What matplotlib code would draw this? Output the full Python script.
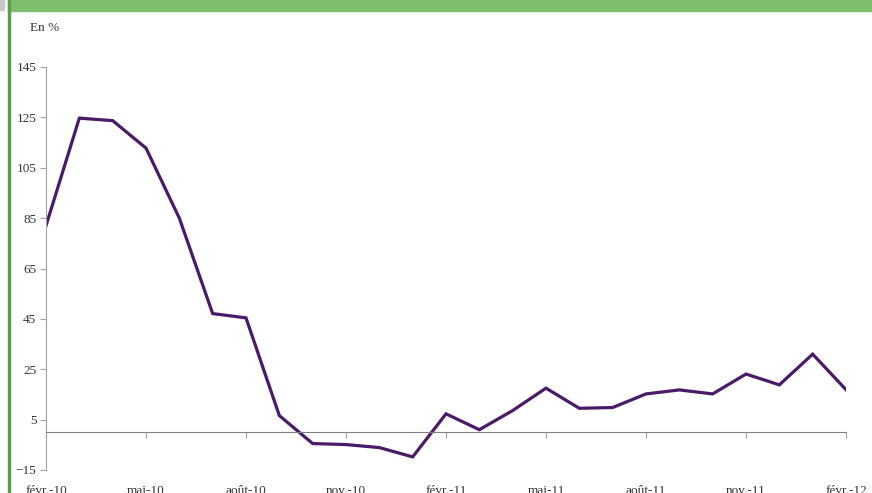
import matplotlib.pyplot as plt
from matplotlib.patches import Rectangle

plt.rcParams["font.family"] = ["Liberation Serif", "DejaVu Serif"]

# monthly values, févr.-10 to févr.-12 (en %)
months = list(range(25))
values = [82.0, 124.7, 123.7, 112.8, 85.0, 47.1, 45.4, 6.6, -4.5, -4.9, -6.1, -9.8,
          7.3, 1.0, 8.6, 17.5, 9.5, 9.8, 15.2, 16.8, 15.2, 23.1, 18.8, 31.0, 16.9]
tick_pos = [0, 3, 6, 9, 12, 15, 18, 21, 24]
tick_labels = ["févr.-10", "mai-10", "août-10", "nov.-10", "févr.-11",
               "mai-11", "août-11", "nov.-11", "févr.-12"]
y_ticks = [-15, 5, 25, 45, 65, 85, 105, 125, 145]

fig = plt.figure(figsize=(8.72, 4.93), dpi=100)

# green frame decoration
fig.patches.append(Rectangle((8 / 872, 1 - 11 / 493), 1, 11 / 493,
                             transform=fig.transFigure, color="#7dbf6e", zorder=0))
fig.patches.append(Rectangle((8 / 872, 0), 2 / 872, 1,
                             transform=fig.transFigure, color="#5a9e48", zorder=0))
fig.patches.append(Rectangle((0, 1 - 10 / 493), 4 / 872, 10 / 493,
                             transform=fig.transFigure, color="#c8c8c8", zorder=0))

ax = fig.add_axes([46 / 872, 23 / 493, 800 / 872, 403 / 493])
ax.plot(months, values, color="#4a1a68", linewidth=2.3, solid_joinstyle="miter")

ax.set_xlim(0, 24)
ax.set_ylim(-15, 145)
ax.set_yticks(y_ticks)
ax.set_xticks(tick_pos)
ax.set_xticklabels(tick_labels)

ax.spines["top"].set_visible(False)
ax.spines["right"].set_visible(False)
ax.spines["left"].set_color("#a0a0a0")
ax.spines["bottom"].set_position(("data", 0))
ax.spines["bottom"].set_color("#808080")
ax.tick_params(axis="y", length=4, color="#a0a0a0", labelsize=9.5, labelcolor="#333333", pad=3)
ax.tick_params(axis="x", length=4, color="#a0a0a0", labelsize=9.5, labelcolor="#333333", pad=34)

fig.text(30 / 872, 1 - 28 / 493, "En %", fontsize=9.5, color="#333333", va="center")

fig.savefig("out.png", dpi=100)
